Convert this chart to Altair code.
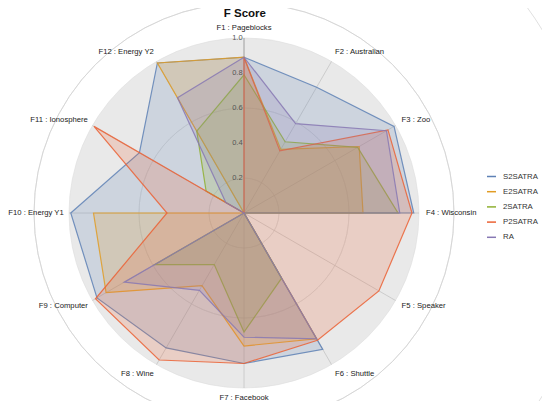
import math
import altair as alt
import pandas as pd

# ---------------- data ----------------
axis_labels = ["F1 : Pageblocks", "F2 : Australian", "F3 : Zoo", "F4 : Wisconsin",
               "F5 : Speaker", "F6 : Shuttle", "F7 : Facebook", "F8 : Wine",
               "F9 : Computer", "F10 : Energy Y1", "F11 : Ionosphere", "F12 : Energy Y2"]
series_names = ["S2SATRA", "E2SATRA", "2SATRA", "P2SATRA", "RA"]
s2satra = [0.89, 0.83, 0.99, 0.97, 0.00, 0.90, 0.86, 0.89, 0.97, 0.99, 0.69, 0.99]
e2satra = [0.89, 0.42, 0.76, 0.68, 0.00, 0.83, 0.76, 0.48, 0.91, 0.86, 0.00, 0.99]
satra2 = [0.79, 0.47, 0.75, 0.88, 0.00, 0.43, 0.68, 0.34, 0.59, 0.00, 0.25, 0.54]
p2satra = [0.89, 0.41, 0.95, 0.96, 0.89, 0.84, 0.86, 0.97, 0.98, 0.44, 0.99, 0.00]
ra = [0.89, 0.59, 0.94, 0.89, 0.00, 0.83, 0.71, 0.51, 0.79, 0.00, 0.12, 0.76]
grid_levels = [0.2, 0.4, 0.6, 0.8]
tick_values = [0.2, 0.4, 0.6, 0.8, 1.0]
tick_labels = ["0.2", "0.4", "0.6", "0.8", "1.0"]
colors = ["#5e81b5", "#e19c24", "#8fb032", "#eb6235", "#8778b3"]

series_values = [s2satra, e2satra, satra2, p2satra, ra]
rows = []
for name, vals in zip(series_names, series_values):
    for k, v in enumerate(vals):
        rows.append({"series": name, "k": k, "axis": axis_labels[k], "value": v})
poly_df = pd.DataFrame(rows)
axes_df = pd.DataFrame({"k": list(range(len(axis_labels))), "label": axis_labels})
rings_df = pd.DataFrame({"level": grid_levels})
disc_df = pd.DataFrame({"level": [1.0]})
ticks_df = pd.DataFrame({"level": tick_values, "text": tick_labels})
title_df = pd.DataFrame({"text": ["F Score"]})

# ---------------- geometry ----------------
W, H = 534, 393
R = 175.0          # pixels for value 1.0
CX, CY = 244 - 8, 213 - 8   # centre inside the view
xmin, xmax = -CX / R, (W - CX) / R
ymin, ymax = -(H - CY) / R, CY / R
xsc = alt.Scale(domain=[xmin, xmax], nice=False, zero=False)
ysc = alt.Scale(domain=[ymin, ymax], nice=False, zero=False)
n = len(axis_labels)
ANG = f"datum.k * 2 * PI / {n}"

def X(f):
    return alt.X(f, type="quantitative", scale=xsc, axis=None)

def Y(f):
    return alt.Y(f, type="quantitative", scale=ysc, axis=None)

font = "Liberation Sans"
rscale = alt.Scale(type="linear", domain=[0, 1], range=[0, R], zero=True)

disc = alt.Chart(disc_df).mark_arc(theta=0, theta2=2 * math.pi, fill="#e9e9e9", stroke="#dedede",
                                   strokeWidth=0.6).transform_calculate(
    cx="0", cy="0"
).encode(x=X("cx"), y=Y("cy"), radius=alt.Radius("level:Q", scale=rscale))

rings = alt.Chart(rings_df).mark_arc(theta=0, theta2=2 * math.pi, fillOpacity=0, stroke="#d2d2d2",
                                     strokeWidth=0.7).transform_calculate(
    cx="0", cy="0"
).encode(x=X("cx"), y=Y("cy"), radius=alt.Radius("level:Q", scale=rscale))

spokes = alt.Chart(axes_df).mark_rule(strokeWidth=0.8).transform_calculate(
    zx="0", zy="0", sx=f"sin({ANG})", sy=f"cos({ANG})"
).encode(x=X("zx"), y=Y("zy"), x2="sx:Q", y2="sy:Q",
         color=alt.condition("datum.k == 0", alt.value("#8a8a8a"), alt.value("#c4c4c4")))

cscale = alt.Scale(domain=series_names, range=colors)
polys = alt.Chart(poly_df).mark_line(interpolate="linear-closed", strokeWidth=1.2, strokeOpacity=0.85,
                                     fillOpacity=0.2).transform_calculate(
    px=f"datum.value * sin({ANG})", py=f"datum.value * cos({ANG})"
).encode(
    x=X("px"), y=Y("py"),
    order=alt.Order("k:Q"),
    detail="series:N",
    color=alt.Color("series:N", scale=cscale,
                    legend=alt.Legend(title=None, orient="none", legendX=478, legendY=163,
                                      symbolType="stroke", symbolSize=81, symbolStrokeWidth=1.5,
                                      labelFontSize=7.8, labelFont=font, labelColor="#333333",
                                      labelOffset=6, rowPadding=5.2, padding=0)),
    fill=alt.Fill("series:N", scale=cscale, legend=None),
)

ticks = alt.Chart(ticks_df).mark_text(align="right", baseline="middle", fontSize=7.5, font=font,
                                      color="#555555").transform_calculate(tx="-0.008").encode(
    x=X("tx"), y=Y("level"), text="text:N")

def label_layer(filt, align, rx, ry):
    return alt.Chart(axes_df).transform_filter(filt).transform_calculate(
        lx=f"{rx} * sin({ANG})", ly=f"{ry} * cos({ANG})"
    ).mark_text(align=align, baseline="middle", fontSize=7.7, font=font, color="#222222").encode(
        x=X("lx"), y=Y("ly"), text="label:N")

labels_c = label_layer("datum.k == 0 || datum.k == 6", "center", 1.04, 1.058)
labels_r = label_layer("datum.k > 0 && datum.k < 6", "left", 1.04, 1.065)
labels_l = label_layer("datum.k > 6", "right", 1.03, 1.065)

title = alt.Chart(title_df).mark_text(align="center", baseline="alphabetic", fontSize=11.5, fontWeight="bold",
                                      font=font, color="#111111").transform_calculate(
    tx="0.005", ty=f"{(213 - 17.3) / R}").encode(x=X("tx"), y=Y("ty"), text="text:N")

chart = alt.layer(disc, rings, spokes, polys, ticks, labels_c, labels_r, labels_l, title).properties(
    width=W, height=H, padding=0, autosize="none"
).configure_view(stroke=None)

chart.save("out.html", embed_options={"renderer": "svg", "actions": False})
